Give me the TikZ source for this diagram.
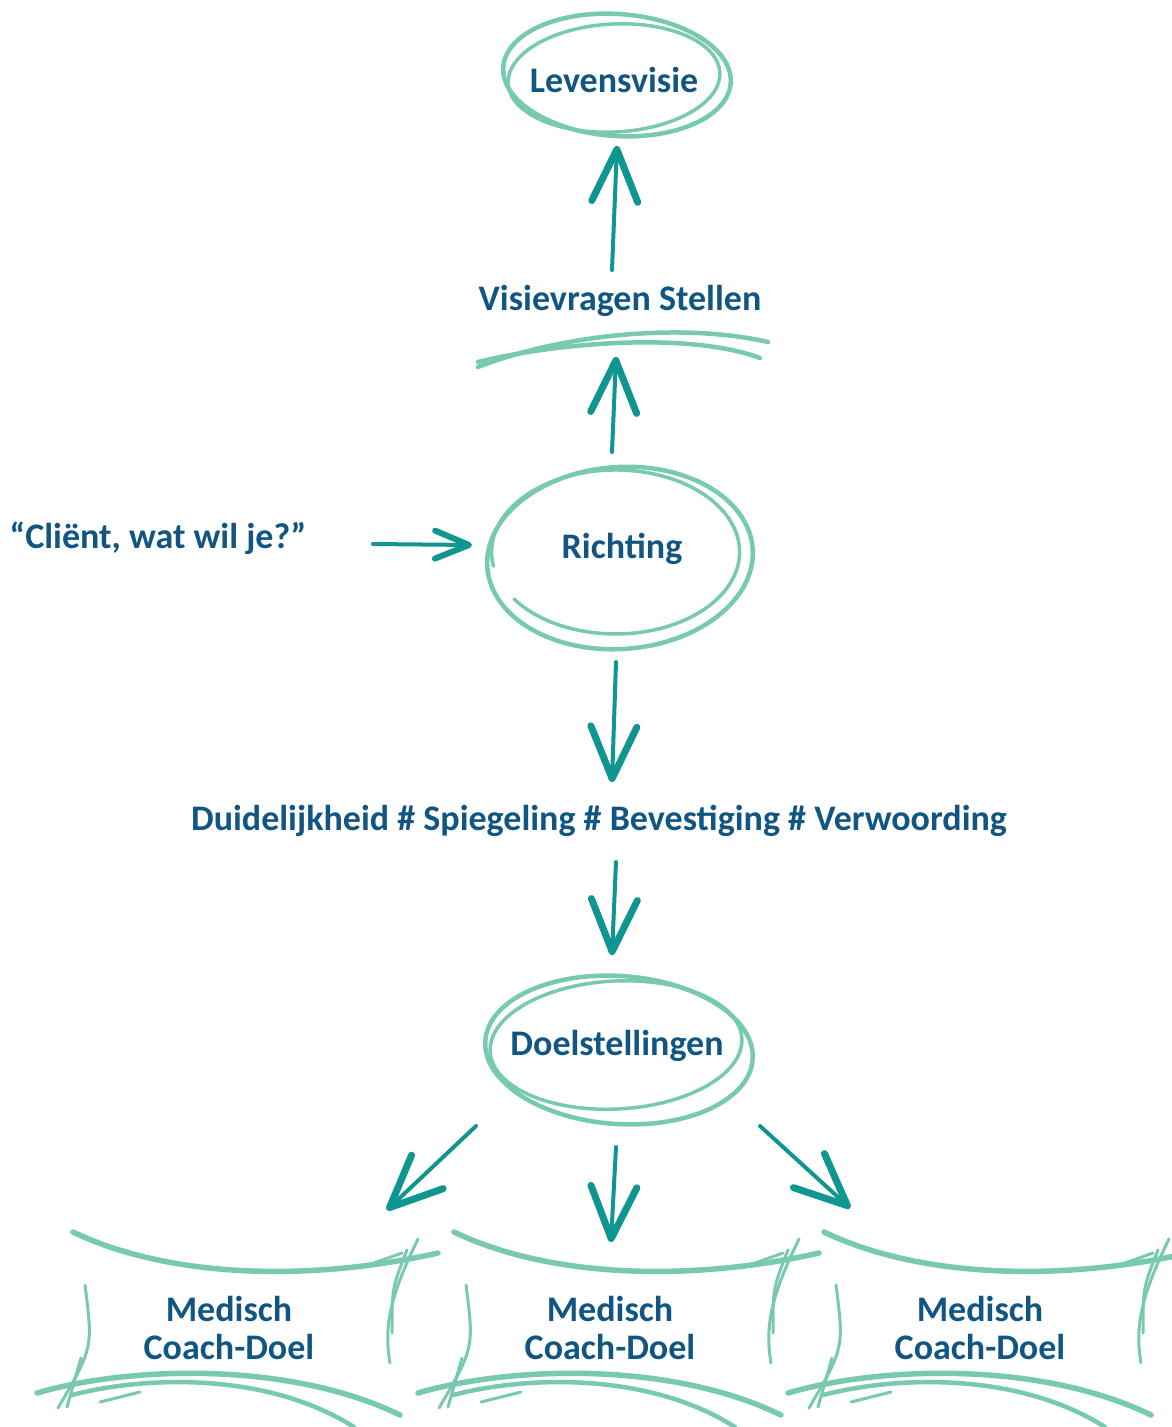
\documentclass[tikz,border=0pt]{standalone}
\usepackage{fontspec}
\setmainfont{Carlito}
\usetikzlibrary{shapes,arrows.meta,positioning,calc}

\definecolor{inkblue}{RGB}{17,86,130}
\definecolor{arrowteal}{RGB}{16,150,145}
\definecolor{sketchgreen}{RGB}{120,201,177}

\begin{document}
\begin{tikzpicture}[
  x=1pt, y=-1pt,
  txt/.style={font=\fontsize{36}{38}\selectfont\bfseries, text=inkblue, align=center},
  sketch/.style={draw=sketchgreen, line width=4.5pt, line cap=round},
  thinsketch/.style={sketch, line width=3pt},
  arrow/.style={-{Straight Barb[length=52pt, width=46pt, line width=7pt, round]}, draw=arrowteal, line width=4pt, line cap=round},
  smallarrow/.style={arrow, -{Straight Barb[length=34pt, width=28pt, line width=6pt, round]}, line width=4pt},
  goalframe/.pic={
    \draw[sketch, line width=5.5pt] (-156,-96) .. controls (-60,-50) and (80,-46) .. (209,-75);
    \draw[thinsketch] (131,-60) -- (173,-75);
    \draw[sketch, line width=5.5pt] (-192,65) .. controls (-100,38) and (60,33) .. (171,87);
    \draw[sketch] (-157,67) .. controls (-80,47) and (40,45) .. (125,99);
    \draw[thinsketch] (-129,74) -- (-89,64);
    \draw[thinsketch] (-144,-43) .. controls (-136,20) .. (-171,80);
    \draw[thinsketch] (-148,30) -- (-162,79);
    \draw[thinsketch] (189,-89) .. controls (160,-30) and (155,0) .. (161,35);
    \draw[thinsketch] (178,-78) .. controls (163,-40) .. (163,5);
  }
]
\useasboundingbox (0,0) rectangle (1171,1427);

% Top: vision
\node[txt] (lev) at (614,80) {Levensvisie};
\draw[sketch] (617,75) ellipse [x radius=114pt, y radius=61pt, rotate=-4];
\draw[sketch, line width=3.5pt] (614,78) ellipse [x radius=106pt, y radius=54pt, rotate=3];

\node[txt] (vis) at (620,301) {Visievragen Stellen};
\draw[sketch] (478,367) .. controls (560,335) and (680,322) .. (768,342);
\draw[sketch] (478,362) .. controls (560,342) and (690,332) .. (760,358);

% Middle: direction
\node[txt] (rich) at (622,549) {Richting};
\draw[sketch] (620,558) ellipse [x radius=133pt, y radius=91pt, rotate=4];
\draw[sketch, line width=3.5pt] (514,599) arc [start angle=215, end angle=550, x radius=124pt, y radius=82pt];

\node[txt] (client) at (158,538) {“Cliënt, wat wil je?”};

\node[txt] (kw) at (599,821) {Duidelijkheid \# Spiegeling \# Bevestiging \# Verwoording};

% Goals
\node[txt] (doel) at (617,1046) {Doelstellingen};
\draw[sketch] (619,1050) ellipse [x radius=134pt, y radius=74pt, rotate=-4];
\draw[sketch, line width=3.5pt] (616,1045) ellipse [x radius=126pt, y radius=64pt, rotate=3];

\pic at (229,1328) {goalframe};
\pic at (610,1328) {goalframe};
\pic at (980,1328) {goalframe};
\node[txt] (m1) at (229,1328) {Medisch\\Coach-Doel};
\node[txt] (m2) at (610,1328) {Medisch\\Coach-Doel};
\node[txt] (m3) at (980,1328) {Medisch\\Coach-Doel};

% Arrows
\draw[arrow] ([shift={(-8,-31)}]vis.center) -- ([shift={(3,66)}]lev.center);
\draw[arrow] ([shift={(-10,-97)}]rich.center) -- ([shift={(-4,56)}]vis.center);
\draw[smallarrow] ([shift={(215,6)}]client.center) -- ([shift={(-150,-4)}]rich.center);
\draw[arrow] ([shift={(-6,113)}]rich.center) -- ([shift={(13,-39)}]kw.center);
\draw[arrow] ([shift={(17,41)}]kw.center) -- ([shift={(-5,-91)}]doel.center);
\draw[arrow] ([shift={(-141,80)}]doel.center) -- ([shift={(158,-118)}]m1.center);
\draw[arrow] ([shift={(-1,101)}]doel.center) -- ([shift={(1,-86)}]m2.center);
\draw[arrow] ([shift={(143,80)}]doel.center) -- ([shift={(-130,-120)}]m3.center);

\end{tikzpicture}
\end{document}
